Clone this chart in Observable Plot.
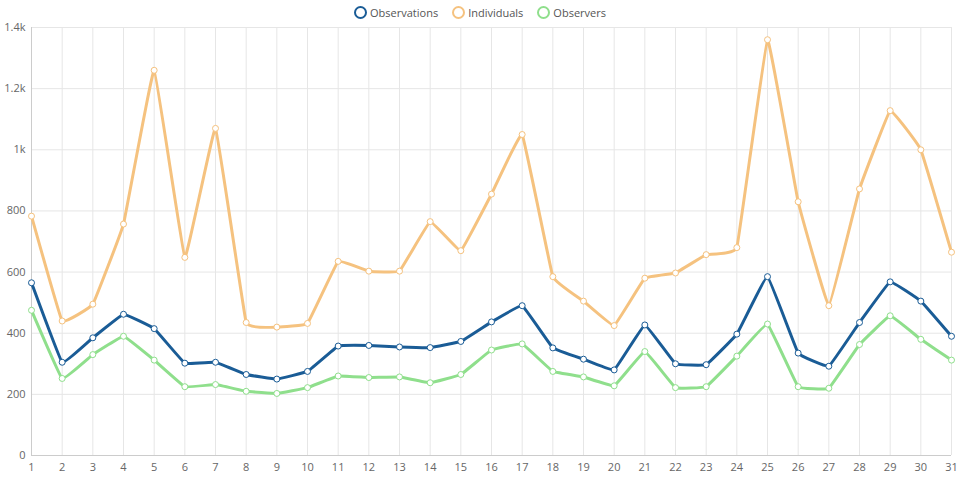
<!DOCTYPE html>
<html><head><meta charset="utf-8">
<script src="https://cdn.jsdelivr.net/npm/d3@7"></script>
<script src="https://cdn.jsdelivr.net/npm/@observablehq/plot@0.6"></script>
<style>
body{margin:0;font-family:"Open Sans",sans-serif;background:#fff}
#legend{height:20px;display:flex;justify-content:center;align-items:center;gap:14px;font-size:11px;color:#555;padding-top:4px;box-sizing:border-box}
#legend span{display:flex;align-items:center;gap:3px}
#legend i{display:inline-block;width:13px;height:13px;border-radius:50%;border:2px solid;box-sizing:border-box}
</style></head><body>
<div id="legend"></div>
<div id="chart"></div>
<script>
const days = d3.range(1, 32);
const observations = [565,305,385,462,415,302,305,265,250,275,358,360,355,353,373,437,490,352,315,280,427,300,297,397,585,335,292,435,568,505,390];
const individuals = [783,440,495,757,1260,648,1070,435,420,432,635,603,603,765,670,855,1050,585,505,425,580,597,657,680,1360,830,490,872,1128,1000,665];
const observers = [475,252,330,390,312,225,232,210,203,222,260,255,257,238,265,345,365,275,257,228,340,222,225,325,430,225,220,363,457,380,312];
const seriesNames = ["Observations","Individuals","Observers"];
const colors = ["#1a5c96","#f5c27f","#8fdf8c"];
const values = [observations, individuals, observers];
const data = seriesNames.flatMap((s,i)=>days.map((d,j)=>({series:s, day:d, value:values[i][j]})));
document.getElementById("legend").innerHTML = seriesNames.map((s,i)=>`<span><i style="border-color:${colors[i]}"></i>${s}</span>`).join("");
const order = ["Individuals","Observers","Observations"];
const chart = Plot.plot({
  width:960, height:460, marginLeft:31, marginRight:9, marginTop:7, marginBottom:25,
  style:{fontSize:"11px", color:"#666", fontFamily:"Open Sans, sans-serif"},
  x:{domain:[1,31], ticks:days, tickFormat:d=>d, tickSize:0, label:null, tickPadding:8},
  y:{domain:[0,1400], ticks:d3.range(0,1401,200), tickFormat:d=>d>=1000?(d/1000)+"k":d, tickSize:0, label:null, tickPadding:6},
  color:{domain:seriesNames, range:colors},
  marks:[
    Plot.gridX(days,{stroke:"#e6e6e6", strokeOpacity:1}),
    Plot.gridY(d3.range(0,1401,200),{stroke:"#e6e6e6", strokeOpacity:1}),
    Plot.ruleY([0],{stroke:"#ccc"}),
    Plot.ruleX([1],{stroke:"#ccc"}),
    ...order.map(s=>Plot.line(data.filter(d=>d.series===s),{x:"day",y:"value",stroke:"series",strokeWidth:3,curve:"cardinal",tension:0.8})),
    ...order.map(s=>Plot.dot(data.filter(d=>d.series===s),{x:"day",y:"value",stroke:"series",fill:"white",r:3,strokeWidth:1}))
  ]
});
document.getElementById("chart").appendChild(chart);
</script></body></html>
